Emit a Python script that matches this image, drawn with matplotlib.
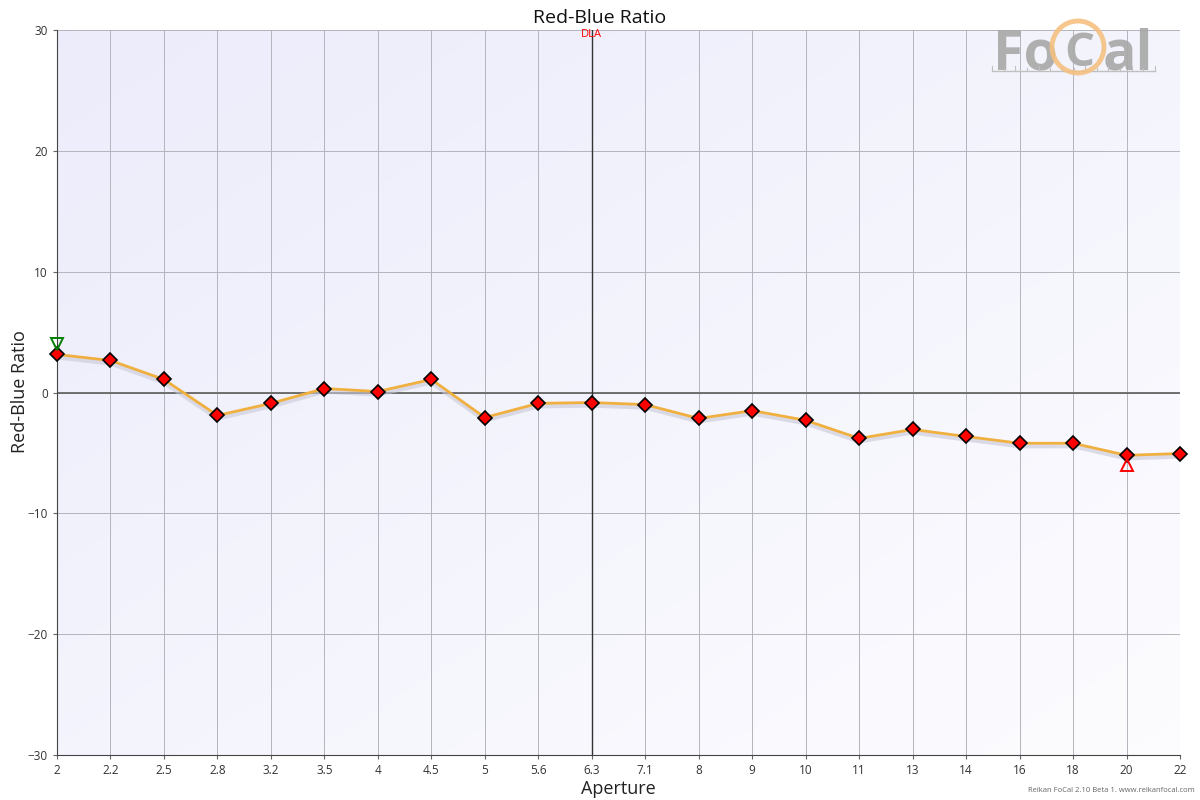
import matplotlib
matplotlib.use("Agg")
import matplotlib.pyplot as plt
import numpy as np
from matplotlib.patches import Ellipse
from matplotlib.lines import Line2D

plt.rcParams['font.family'] = ['Open Sans', 'DejaVu Sans']

apertures = ["2", "2.2", "2.5", "2.8", "3.2", "3.5", "4", "4.5", "5", "5.6", "6.3",
             "7.1", "8", "9", "10", "11", "13", "14", "16", "18", "20", "22"]
ratio = [3.15, 2.65, 1.08, -1.9, -0.9, 0.33, 0.08, 1.08, -2.07, -0.9, -0.83,
         -1.0, -2.15, -1.5, -2.3, -3.8, -3.06, -3.64, -4.2, -4.2, -5.2, -5.05]
max_label, max_value = "2", 4.05
min_label, min_value = "20", -6.0
dla_label = "6.3"
y_ticks = [-30, -20, -10, 0, 10, 20, 30]

W, H = 1200, 800
fig = plt.figure(figsize=(12, 8), dpi=100)
ax = fig.add_axes([57/W, 45/H, 1123/W, 725/H])

x = np.arange(len(apertures))
ax.set_xlim(0, len(apertures) - 1)
ax.set_ylim(-30, 30)

# background gradient
gx, gy = np.meshgrid(np.linspace(0, 1, 200), np.linspace(0, 1, 200))
t = (gx + (1 - gy)) / 2.0
c0 = np.array([0.925, 0.925, 0.985])
c1 = np.array([0.99, 0.99, 1.0])
img = c0[None, None, :] * (1 - t[..., None]) + c1[None, None, :] * t[..., None]
ax.imshow(img, extent=[0, 1, 0, 1], transform=ax.transAxes, aspect='auto',
          origin='lower', zorder=0)

# grid
for xi in x:
    ax.axvline(xi, color='#b4b4bc', lw=0.7, zorder=1)
for yv in y_ticks:
    ax.axhline(yv, color='#b4b4bc', lw=0.7, zorder=1)
ax.axhline(0, color='#666666', lw=1.3, zorder=2)

# DLA line
di = apertures.index(dla_label)
ax.axvline(di, color='#333333', lw=1.0, zorder=2)
ax.text(di, 30.1, "DLA", color='red', fontsize=8, ha='center', va='top', zorder=6)

# shadow + line
ax.plot(x, np.array(ratio) - 0.25, color='#c8c8d8', lw=3, alpha=0.6, zorder=3)
ax.plot(x, ratio, color='#f0b040', lw=2, zorder=4)
ax.plot(x, ratio, linestyle='none', marker='D', markersize=7.5,
        markerfacecolor='red', markeredgecolor='black', markeredgewidth=1.2,
        zorder=5, clip_on=False)

# max / min markers
ax.plot(apertures.index(max_label), max_value, marker='v', markersize=8,
        markerfacecolor='none', markeredgecolor='green', markeredgewidth=1.4,
        zorder=6, clip_on=False)
ax.plot(apertures.index(min_label), min_value, marker='^', markersize=8,
        markerfacecolor='none', markeredgecolor='red', markeredgewidth=1.4,
        zorder=6, clip_on=False)

ax.set_xticks(x)
ax.set_xticklabels(apertures)
ax.set_yticks(y_ticks)
ax.tick_params(axis='both', labelsize=8.5, length=3, color='#666666', labelcolor='#333333')
for s in ax.spines.values():
    s.set_visible(False)
ax.spines['bottom'].set_visible(True)
ax.spines['left'].set_visible(True)
ax.spines['bottom'].set_color('#444444')
ax.spines['left'].set_color('#444444')

ax.set_xlabel("Aperture", fontsize=13, color='#222222', labelpad=2)
fig.text(20/W, 1 - 392/H, "Red-Blue Ratio", fontsize=13, color='#222222',
         rotation=90, ha='center', va='center')
fig.text(0.5, 0.978, "Red-Blue Ratio", ha='center', va='center', fontsize=14, color='#111111')

# logo
logo_col = '#a8a8a8'
fig.text(993/W, 1 - 70/H, "Fo", fontsize=40, color=logo_col, alpha=0.9,
         ha='left', va='baseline', fontweight='bold')
fig.text(1103/W, 1 - 70/H, "al", fontsize=40, color=logo_col, alpha=0.9,
         ha='left', va='baseline', fontweight='bold')
fig.text(1079/W, 1 - 66/H, "C", fontsize=34, color=logo_col, alpha=0.9,
         ha='center', va='baseline', fontweight='bold')
ring = Ellipse((1078/W, 1 - 47/H), 52/W, 52/H, transform=fig.transFigure,
               facecolor='none', edgecolor='#f5c080', lw=3.5, alpha=0.9, zorder=10)
fig.add_artist(ring)
ry = 1 - 71/H
fig.add_artist(Line2D([992/W, 1155/W], [ry, ry], transform=fig.transFigure,
                      color='#c0c0c0', lw=1.0, zorder=9))
for k, px in enumerate(np.linspace(992, 1155, 15)):
    hh = 5 if k % 2 == 0 else 3
    fig.add_artist(Line2D([px/W, px/W], [ry, ry + hh/H], transform=fig.transFigure,
                          color='#c0c0c0', lw=0.8, zorder=9))

fig.text(1195/W, 6/H, "Reikan FoCal 2.10 Beta 1. www.reikanfocal.com",
         fontsize=5.5, color='#666666', ha='right', va='bottom')

fig.savefig("out.png", dpi=100)
